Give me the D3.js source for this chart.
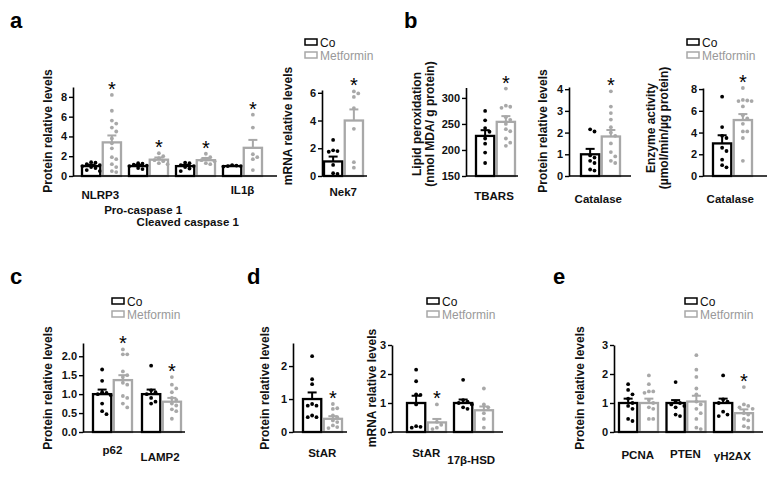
<!DOCTYPE html>
<html>
<head>
<meta charset="utf-8">
<script src="https://d3js.org/d3.v7.min.js"></script>
<style>
  body { margin: 0; background: #fff; }
  text { font-family: "Liberation Sans", Arial, sans-serif; }
</style>
</head>
<body>
<div id="fig"></div>
<script>
// ---- panel a: inflammasome proteins ----
const aCats = ["NLRP3", "Pro-caspase 1", "Cleaved caspase 1", "IL1\u03b2"];
const aCoMean = [1.0, 1.0, 1.0, 1.0];
const aCoSem = [0.15, 0.12, 0.12, 0.04];
const aCoPts = [
  [1.4, 1.35, 1.2, 1.1, 1.0, 0.9, 0.8, 0.6, 0.5],
  [1.3, 1.25, 1.15, 1.05, 1.0, 0.9, 0.8, 0.7],
  [1.35, 1.3, 1.1, 1.0, 0.9, 0.75, 0.5],
  [1.1, 1.05, 1.0, 1.0, 0.95]
];
const aMetMean = [3.4, 1.65, 1.6, 2.85];
const aMetSem = [0.7, 0.22, 0.22, 0.8];
const aMetPts = [
  [8.2, 6.6, 5.6, 5.3, 4.9, 4.5, 3.8, 3.3, 2.8, 1.9, 1.7, 1.2, 0.9, 0.5, 0.4],
  [2.3, 2.0, 1.8, 1.6, 1.5, 1.3, 1.2],
  [2.25, 1.9, 1.75, 1.6, 1.5, 1.3, 1.2],
  [6.2, 4.9, 2.2, 1.9, 1.7, 0.6]
];
const aSig = [true, true, true, true];

// ---- panel a: Nek7 mRNA ----
const nekCats = ["Nek7"];
const nekCoMean = [1.05], nekCoSem = [0.35];
const nekCoPts = [[2.6, 1.85, 1.8, 1.75, 0.8, 0.2, 0.15]];
const nekMetMean = [4.0], nekMetSem = [0.8];
const nekMetPts = [[6.1, 5.95, 5.7, 4.9, 3.4, 1.0, 0.6]];
const nekSig = [true];

// ---- panel b ----
const tbCats = ["TBARS"];
const tbCoMean = [227], tbCoSem = [11];
const tbCoPts = [[275, 257, 242, 235, 222, 212, 195, 175]];
const tbMetMean = [254], tbMetSem = [11];
const tbMetPts = [[318, 285, 283, 281, 263, 258, 250, 240, 236, 222, 214, 208]];
const tbSig = [true];

const catCats = ["Catalase"];
const catCoMean = [1.0], catCoSem = [0.25];
const catCoPts = [[2.15, 2.05, 0.95, 0.85, 0.7, 0.6, 0.3, 0.25]];
const catMetMean = [1.82], catMetSem = [0.3];
const catMetPts = [[3.9, 3.2, 2.9, 2.6, 2.25, 2.0, 1.85, 1.5, 1.1, 0.9, 0.7, 0.6]];
const catSig = [true];

const enzCats = ["Catalase"];
const enzCoMean = [3.0], enzCoSem = [0.75];
const enzCoPts = [[7.3, 4.5, 3.7, 3.5, 2.6, 2.3, 1.5, 1.0, 0.8]];
const enzMetMean = [5.15], enzMetSem = [0.55];
const enzMetPts = [[8.1, 7.0, 6.95, 6.9, 6.9, 6.4, 5.6, 5.3, 4.8, 4.1, 4.1, 3.5, 1.4]];
const enzSig = [true];

// ---- panel c ----
const cCats = ["p62", "LAMP2"];
const cCoMean = [1.0, 1.0], cCoSem = [0.12, 0.12];
const cCoPts = [
  [1.65, 1.35, 1.05, 1.03, 1.0, 0.97, 0.75, 0.55, 0.47],
  [1.75, 1.1, 1.05, 1.0, 0.9, 0.8, 0.75]
];
const cMetMean = [1.37, 0.8], cMetSem = [0.13, 0.1];
const cMetPts = [
  [2.18, 2.05, 2.05, 1.6, 1.5, 1.45, 1.3, 1.25, 0.95, 0.9, 0.75, 0.65],
  [1.45, 1.25, 1.15, 1.05, 0.9, 0.85, 0.75, 0.7, 0.6, 0.55, 0.35]
];
const cSig = [true, true];

// ---- panel d ----
const dpCats = ["StAR"];
const dpCoMean = [1.0], dpCoSem = [0.2];
const dpCoPts = [[2.3, 1.6, 1.45, 0.85, 0.8, 0.8, 0.5, 0.45, 0.45]];
const dpMetMean = [0.4], dpMetSem = [0.08];
const dpMetPts = [[0.85, 0.72, 0.7, 0.5, 0.45, 0.35, 0.3, 0.2, 0.15, 0.12]];
const dpSig = [true];

const dmCats = ["StAR", "17\u03b2-HSD"];
const dmCoMean = [1.0, 1.0], dmCoSem = [0.25, 0.12];
const dmCoPts = [
  [2.15, 1.75, 1.3, 1.28, 0.95, 0.2, 0.18, 0.15],
  [1.8, 1.1, 1.05, 1.0, 0.95, 0.85, 0.8]
];
const dmMetMean = [0.33, 0.75], dmMetSem = [0.12, 0.13];
const dmMetPts = [
  [0.95, 0.35, 0.25, 0.15, 0.1],
  [1.5, 0.95, 0.85, 0.65, 0.45, 0.15]
];
const dmSig = [true, false];

// ---- panel e ----
const eCats = ["PCNA", "PTEN", "\u03b3H2AX"];
const eCoMean = [1.0, 1.0, 1.0], eCoSem = [0.15, 0.1, 0.15];
const eCoPts = [
  [1.65, 1.45, 1.3, 1.15, 1.0, 0.9, 0.8, 0.45, 0.38],
  [1.72, 1.05, 1.0, 0.95, 0.9, 0.85, 0.6, 0.55],
  [1.95, 1.12, 1.05, 1.0, 0.7, 0.6, 0.55]
];
const eMetMean = [1.0, 1.05, 0.65], eMetSem = [0.15, 0.2, 0.13];
const eMetPts = [
  [1.95, 1.65, 1.4, 1.4, 1.35, 1.1, 1.0, 0.85, 0.8, 0.45, 0.45],
  [2.65, 2.15, 1.9, 1.5, 1.3, 1.05, 0.95, 0.8, 0.65, 0.45, 0.15, 0.1],
  [1.55, 0.95, 0.9, 0.85, 0.8, 0.65, 0.6, 0.45, 0.4, 0.2, 0.15]
];
const eSig = [false, false, true];

const groups = ["Co", "Metformin"];

// ---------------------------------------------------------------
const W = 776, H = 478;
const BLACK = "#000", GREY = "#a8a8a8";
const colour = { Co: BLACK, Metformin: GREY };

const svg = d3.select("#fig").append("svg")
  .attr("width", W).attr("height", H);

// simple deterministic swarm so overlapping dots spread sideways
function swarm(vals, y, cx, r) {
  const placed = [];
  const step = r * 2.3;
  vals.slice().sort((a, b) => b - a).forEach(v => {
    const py = y(v);
    for (let k = 0; k < 30; k++) {
      const off = k === 0 ? 0 : (k % 2 ? 1 : -1) * Math.ceil(k / 2) * step;
      const px = cx + off;
      if (placed.every(p => (p.x - px) ** 2 + (p.y - py) ** 2 >= step * step)) {
        placed.push({ x: px, y: py });
        break;
      }
    }
  });
  return placed;
}

// category labels: placed where the slanted label's middle sits in the
// original figure, and nudged down if they would run into each other
const labelBoxes = [];
function catLabel(g, t, gc, yBase, off) {
  const el = g.append("text")
    .attr("text-anchor", "middle").attr("font-size", 11.5).attr("font-weight", "bold")
    .attr("fill", "#111").text(t);
  const L = el.node().getComputedTextLength() || t.length * 6.5;
  const cx = gc - 0.1 * Math.max(0, L - 25);
  let cy = yBase + off + 0.354 * L;
  const hit = (b) => labelBoxes.some(o =>
    b.x0 < o.x1 && b.x1 > o.x0 && b.y0 < o.y1 && b.y1 > o.y0);
  let box = { x0: cx - L / 2, x1: cx + L / 2, y0: cy - 6, y1: cy + 6 };
  while (hit(box)) { cy += 1; box = { x0: box.x0, x1: box.x1, y0: cy - 6, y1: cy + 6 }; }
  labelBoxes.push(box);
  el.attr("x", cx).attr("y", cy + 4);
}

function drawChart(c) {
  const g = svg.append("g");
  const n = c.cats.length;
  const x = d3.scaleBand().domain(c.cats)
    .range([c.x0 + c.lead, c.x0 + c.lead + c.pitch * n]);
  const xi = d3.scaleBand().domain(groups).range([0, 39]).paddingInner(0.12);
  const y = d3.scaleLinear().domain(c.domain).range([c.yBase, c.yTop]);
  const bw = xi.bandwidth();

  const series = {
    Co: { mean: c.coMean, sem: c.coSem, pts: c.coPts },
    Metformin: { mean: c.metMean, sem: c.metSem, pts: c.metPts }
  };

  c.cats.forEach((cat, i) => {
    groups.forEach(gr => {
      const s = series[gr];
      const bx = x(cat) + xi(gr);
      const cx = bx + bw / 2;
      const col = colour[gr];
      g.append("rect")
        .attr("x", bx).attr("y", y(s.mean[i]))
        .attr("width", bw).attr("height", y(c.domain[0]) - y(s.mean[i]))
        .attr("fill", "#fff").attr("stroke", col).attr("stroke-width", 2.3);

      g.selectAll(null).data(swarm(s.pts[i], y, cx, 1.9)).enter()
        .append("circle")
        .attr("cx", d => d.x).attr("cy", d => d.y).attr("r", 1.9)
        .attr("fill", col);

      const top = y(s.mean[i] + s.sem[i]);
      g.append("line").attr("x1", cx).attr("x2", cx)
        .attr("y1", y(s.mean[i])).attr("y2", top)
        .attr("stroke", col).attr("stroke-width", 2);
      g.append("line").attr("x1", cx - 4.5).attr("x2", cx + 4.5)
        .attr("y1", top).attr("y2", top)
        .attr("stroke", col).attr("stroke-width", 2);

      if (gr === "Metformin" && c.sig[i]) {
        g.append("text").attr("x", cx).attr("y", y(d3.max(s.pts[i])) + 1)
          .attr("text-anchor", "middle").attr("font-size", 20)
          .attr("fill", BLACK).text("*");
      }
    });

    catLabel(g, cat, x(cat) + x.bandwidth() / 2 - (c.pitch - 39) / 2 + 0,
      c.yBase, c.labOff);
  });

  // axes
  const ax = g.append("g").attr("transform", `translate(${c.x0},0)`)
    .call(d3.axisLeft(y).tickValues(c.ticks).tickSize(4).tickSizeOuter(0)
      .tickFormat(c.fmt || d3.format("d")));
  ax.select(".domain").attr("stroke", BLACK).attr("stroke-width", 1.6);
  ax.selectAll(".tick line").attr("stroke", BLACK).attr("stroke-width", 1.4);
  ax.selectAll(".tick text").attr("font-size", 11).attr("font-weight", "bold")
    .attr("fill", "#111").attr("x", -6)
    .style("font-family", '"Liberation Sans", Arial, sans-serif');
  g.append("line").attr("x1", c.x0).attr("x2", c.x1)
    .attr("y1", c.yBase).attr("y2", c.yBase)
    .attr("stroke", BLACK).attr("stroke-width", 1.6);

  // y label (one or two lines)
  c.ylab.forEach((t, k) => {
    g.append("text")
      .attr("transform", `translate(${c.ylabX + k * 12.5},${c.ylabY}) rotate(-90)`)
      .attr("text-anchor", "middle").attr("font-size", 12).attr("font-weight", "bold")
      .attr("fill", "#111").text(t);
  });
}

function legend(lx, ly) {
  const g = svg.append("g");
  groups.forEach((gr, k) => {
    g.append("rect").attr("x", lx).attr("y", ly + k * 13 - 3)
      .attr("width", 12).attr("height", 6)
      .attr("fill", "none").attr("stroke", colour[gr]).attr("stroke-width", 1.5);
    g.append("text").attr("x", lx + 15).attr("y", ly + k * 13 + 4.5)
      .attr("font-size", 12).attr("fill", gr === "Co" ? "#111" : "#999").text(gr);
  });
}

function panelLetter(t, px, py) {
  svg.append("text").attr("x", px).attr("y", py)
    .attr("font-size", 22).attr("font-weight", "bold").attr("fill", "#000").text(t);
}

// ---- layout ----
const TOP = 176, BOT = 432;

drawChart({ cats: aCats, coMean: aCoMean, coSem: aCoSem, coPts: aCoPts,
  metMean: aMetMean, metSem: aMetSem, metPts: aMetPts, sig: aSig,
  x0: 73, x1: 277, lead: 9, pitch: 47, yBase: TOP, yTop: 87, domain: [0, 9], labOff: 6,
  ticks: [0, 2, 4, 6, 8], ylab: ["Protein relative levels"], ylabX: 52, ylabY: 131 });

drawChart({ cats: nekCats, coMean: nekCoMean, coSem: nekCoSem, coPts: nekCoPts,
  metMean: nekMetMean, metSem: nekMetSem, metPts: nekMetPts, sig: nekSig,
  x0: 322, x1: 367, lead: 2, pitch: 47, yBase: TOP, yTop: 90, domain: [0, 6.2], labOff: 6,
  ticks: [0, 2, 4, 6], ylab: ["mRNA relative levels"], ylabX: 292, ylabY: 126 });

drawChart({ cats: tbCats, coMean: tbCoMean, coSem: tbCoSem, coPts: tbCoPts,
  metMean: tbMetMean, metSem: tbMetSem, metPts: tbMetPts, sig: tbSig,
  x0: 466, x1: 518, lead: 10, pitch: 47, yBase: TOP, yTop: 87.5, domain: [150, 320], labOff: 6,
  ticks: [150, 200, 250, 300], ylab: ["Lipid peroxidation", "(nmol MDA/ g protein)"],
  ylabX: 421, ylabY: 124 });

drawChart({ cats: catCats, coMean: catCoMean, coSem: catCoSem, coPts: catCoPts,
  metMean: catMetMean, metSem: catMetSem, metPts: catMetPts, sig: catSig,
  x0: 569, x1: 631, lead: 12, pitch: 47, yBase: TOP, yTop: 87, domain: [0, 4.1], labOff: 6,
  ticks: [0, 1, 2, 3, 4], ylab: ["Protein relative levels"], ylabX: 547, ylabY: 131 });

drawChart({ cats: enzCats, coMean: enzCoMean, coSem: enzCoSem, coPts: enzCoPts,
  metMean: enzMetMean, metSem: enzMetSem, metPts: enzMetPts, sig: enzSig,
  x0: 703, x1: 767, lead: 10, pitch: 47, yBase: TOP, yTop: 88, domain: [0, 8.1], labOff: 6,
  ticks: [0, 2, 4, 6, 8], ylab: ["Enzyme activity", "(\u00b5mol/min/\u00b5g protein)"],
  ylabX: 655, ylabY: 128 });

drawChart({ cats: cCats, coMean: cCoMean, coSem: cCoSem, coPts: cCoPts,
  metMean: cMetMean, metSem: cMetSem, metPts: cMetPts, sig: cSig,
  x0: 83, x1: 185, lead: 10, pitch: 49, yBase: BOT, yTop: 343, domain: [0, 2.35], labOff: 11,
  ticks: [0, 0.5, 1, 1.5, 2], fmt: d3.format(".1f"),
  ylab: ["Protein relative levels"], ylabX: 52, ylabY: 388 });

drawChart({ cats: dpCats, coMean: dpCoMean, coSem: dpCoSem, coPts: dpCoPts,
  metMean: dpMetMean, metSem: dpMetSem, metPts: dpMetPts, sig: dpSig,
  x0: 293, x1: 347, lead: 10, pitch: 47, yBase: BOT, yTop: 343, domain: [0, 2.7], labOff: 11,
  ticks: [0, 1, 2], ylab: ["Protein relative levels"], ylabX: 269, ylabY: 388 });

drawChart({ cats: dmCats, coMean: dmCoMean, coSem: dmCoSem, coPts: dmCoPts,
  metMean: dmMetMean, metSem: dmMetSem, metPts: dmMetPts, sig: dmSig,
  x0: 392, x1: 503, lead: 15, pitch: 47, yBase: BOT, yTop: 345, domain: [0, 3], labOff: 11,
  ticks: [0, 1, 2, 3], ylab: ["mRNA relative levels"], ylabX: 376, ylabY: 388 });

drawChart({ cats: eCats, coMean: eCoMean, coSem: eCoSem, coPts: eCoPts,
  metMean: eMetMean, metSem: eMetSem, metPts: eMetPts, sig: eSig,
  x0: 614, x1: 763, lead: 5, pitch: 47.5, yBase: BOT, yTop: 345, domain: [0, 3], labOff: 11,
  ticks: [0, 1, 2, 3], ylab: ["Protein relative levels"], ylabX: 584, ylabY: 388 });

legend(305, 42);
legend(687, 42);
legend(112, 301);
legend(427, 301);
legend(685, 301);

panelLetter("a", 10, 28);
panelLetter("b", 404, 28);
panelLetter("c", 10, 284);
panelLetter("d", 247, 284);
panelLetter("e", 553, 284);
</script>
</body>
</html>
